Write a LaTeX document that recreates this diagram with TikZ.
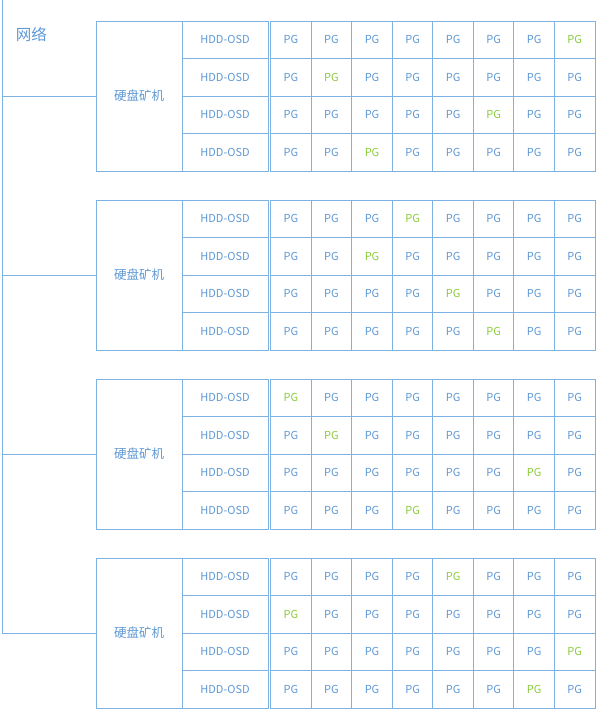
\documentclass[tikz,border=0pt]{standalone}
\usepackage{fontspec}
\setmainfont{Noto Sans CJK SC}
\usetikzlibrary{positioning}
\definecolor{gridblue}{HTML}{7EB2E0}
\definecolor{textblue}{HTML}{5F98D4}
\definecolor{pggreen}{HTML}{8CCB3C}

\begin{document}
\begin{tikzpicture}[x=1pt,y=-1pt,
		every node/.style={inner sep=0pt,outer sep=0pt},
		cell/.style={draw=gridblue,line width=0.9pt,text=textblue,anchor=north west},
		machine/.style={cell,minimum width=86pt,minimum height=150pt,font=\fontsize{12.5}{14}\selectfont},
		osd/.style={cell,minimum width=86pt,minimum height=37.5pt,font=\fontsize{11}{12}\selectfont},
		pg/.style={cell,minimum width=40.54pt,minimum height=37.5pt,font=\fontsize{11}{12}\selectfont},
		link/.style={draw=gridblue,line width=1pt}
		]
		\useasboundingbox (0,0) rectangle (596,710);
		\node[text=textblue,anchor=west,font=\fontsize{15.5}{18}\selectfont] (net) at (16,34) {网络};
		
		% one machine per group, green = the PG of that row
		\foreach \g/\greens in {1/{8,2,6,3},2/{4,3,5,6},3/{1,2,7,4},4/{5,1,8,7}} {
			\pgfmathsetmacro\gtop{21+179*(\g-1)}
			\node[machine] (m\g) at (96,\gtop) {硬盘矿机};
			\foreach \gc [count=\r] in \greens {
				\pgfmathsetmacro\rowy{\gtop+37.5*(\r-1)}
				\node[osd] (h\g-\r) at (182,\rowy) {HDD-OSD};
				\foreach \c in {1,...,8} {
					\ifnum\c=\gc \def\pgcol{pggreen}\else\def\pgcol{textblue}\fi
					\node[pg,text=\pgcol] (p\g-\r-\c) at ({270.7+40.54*(\c-1)},\rowy) {PG};
				}
			}
		}
		
		\coordinate (bus) at (2,0);
		\draw[link] (bus) -- (bus |- m4.west);
		\foreach \g in {1,...,4}
			\draw[link] (bus |- m\g.west) -- (m\g.west);
	\end{tikzpicture}
\end{document}
